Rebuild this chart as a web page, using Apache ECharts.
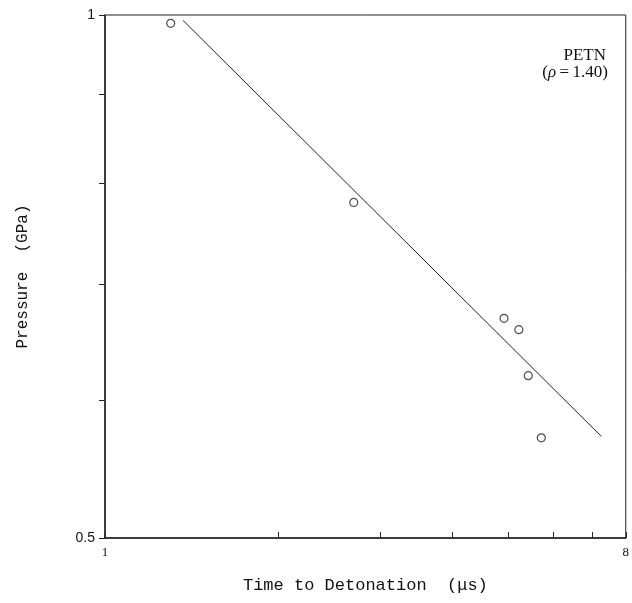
<!DOCTYPE html>
<html><head><meta charset="utf-8">
<script src="https://cdn.jsdelivr.net/npm/echarts@6/dist/echarts.min.js"></script>
<style>html,body{margin:0;padding:0;background:#fff}#c{width:632px;height:603px}</style>
</head><body><div id="c"></div>
<script>
const timeVals = [1.30, 2.70, 4.92, 5.22, 5.42, 5.71];
const pressureVals = [0.989, 0.780, 0.669, 0.659, 0.620, 0.571];
const fitTime = [1.365, 7.26];
const fitPressure = [0.993, 0.572];
const xTicks = [1, 2, 3, 4, 5, 6, 7, 8];
const xLabels = [1, 8];
const yTicks = [0.5, 0.6, 0.7, 0.8, 0.9, 1];
const yLabels = [0.5, 1];

const chart = echarts.init(document.getElementById('c'), null, {renderer: 'canvas'});
const pts = timeVals.map((t, i) => [t, pressureVals[i]]);
const fit = fitTime.map((t, i) => [t, fitPressure[i]]);
chart.setOption({
  animation: false,
  backgroundColor: '#fff',
  grid: {left: 105, right: 5, top: 15, bottom: 65, show: true, borderColor: '#222', borderWidth: 1, backgroundColor: 'transparent'},
  xAxis: {
    type: 'log', logBase: 10, min: 1, max: 8,
    name: 'Time to Detonation  (\u03bcs)', nameLocation: 'middle', nameGap: 39,
    nameTextStyle: {fontFamily: 'Liberation Mono', fontSize: 17, color: '#111'},
    axisLine: {show: true, lineStyle: {color: '#222', width: 1.5}},
    axisTick: {show: true, inside: true, length: 6, customValues: xTicks, lineStyle: {color: '#222'}},
    axisLabel: {customValues: xLabels, formatter: v => String(v), fontFamily: 'Liberation Serif', fontSize: 13, color: '#111', margin: 8},
    splitLine: {show: false}, minorTick: {show: false}
  },
  yAxis: {
    type: 'log', logBase: 10, min: 0.5, max: 1,
    name: 'Pressure  (GPa)', nameLocation: 'middle', nameGap: 74, nameRotate: 90,
    nameTextStyle: {fontFamily: 'Liberation Mono', fontSize: 16, color: '#111'},
    axisLine: {show: true, lineStyle: {color: '#222', width: 1.5}},
    axisTick: {show: true, inside: false, length: 6, customValues: yTicks, lineStyle: {color: '#222'}},
    axisLabel: {customValues: yLabels, formatter: v => String(Math.round(v * 10) / 10), fontFamily: 'Liberation Sans', fontSize: 14, color: '#111', margin: 10},
    splitLine: {show: false}
  },
  graphic: [
    {type: 'text', right: 26, top: 47, style: {text: 'PETN', fontFamily: 'Liberation Serif', fontSize: 17, fill: '#111', textAlign: 'right'}},
    {type: 'text', right: 24, top: 64, style: {
      text: '({i|\u03c1}\u2009=\u20091.40)',
      fontFamily: 'Liberation Serif', fontSize: 17, fill: '#111', textAlign: 'right',
      rich: {i: {fontFamily: 'Liberation Serif', fontStyle: 'italic', fontSize: 17, fill: '#111'}}
    }}
  ],
  series: [
    {type: 'line', data: fit, symbol: 'none', lineStyle: {color: '#222', width: 1}, z: 2},
    {type: 'scatter', data: pts, symbol: 'circle', symbolSize: 8, itemStyle: {color: '#fff', borderColor: '#222', borderWidth: 1.2}, z: 3}
  ]
});
</script></body></html>
